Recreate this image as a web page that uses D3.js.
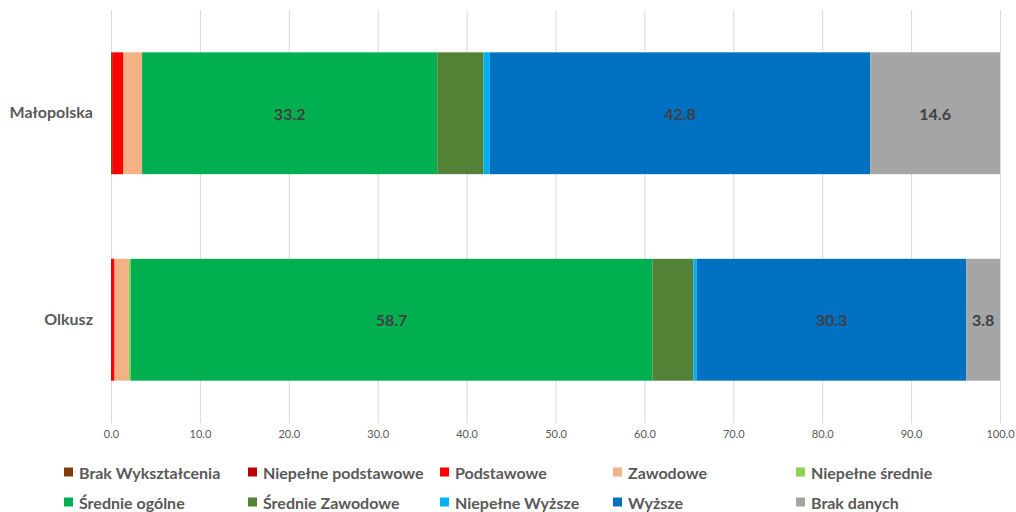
<!DOCTYPE html>
<html><head><meta charset="utf-8">
<script src="https://cdn.jsdelivr.net/npm/d3@7"></script>
<style>body{margin:0;background:#fff}svg{display:block}</style>
</head><body>
<svg id="c" width="1016" height="512"></svg>
<script>
const regions = ["Małopolska", "Olkusz"];
const seriesNames = ["Brak Wykształcenia","Niepełne podstawowe","Podstawowe","Zawodowe","Niepełne średnie","Średnie ogólne","Średnie Zawodowe","Niepełne Wyższe","Wyższe","Brak danych"];
const seriesColors = ["#843C0C","#C00000","#FF0000","#F4B183","#92D050","#00B050","#538135","#00B0F0","#0070C0","#A5A5A5"];
const malopolskaValues = [0.1, 0.1, 1.2, 2.1, 0.0, 33.2, 5.2, 0.7, 42.8, 14.6];
const olkuszValues     = [0.0, 0.0, 0.4, 1.6, 0.2, 58.7, 4.6, 0.4, 30.3, 3.8];
const labelledSeries = ["Średnie ogólne","Wyższe","Brak danych"];
const xTicks = [0,10,20,30,40,50,60,70,80,90,100];

const valuesByRegion = [malopolskaValues, olkuszValues];
const rows = regions.map((r,i)=>{const o={region:r}; seriesNames.forEach((s,j)=>o[s]=valuesByRegion[i][j]); return o;});
const stacked = d3.stack().keys(seriesNames)(rows);

const svg = d3.select("#c");
const x = d3.scaleLinear().domain([0,100]).range([111,1000]);
const y = d3.scaleBand().domain(regions).range([10,423]).paddingInner(0.41).paddingOuter(0.205);
const FONT = "Lato, 'Open Sans', sans-serif";

// gridlines
svg.append("g").selectAll("line").data(xTicks).join("line")
  .attr("x1",d=>x(d)+0.5).attr("x2",d=>x(d)+0.5).attr("y1",10).attr("y2",423)
  .attr("stroke","#d9d9d9").attr("stroke-width",1);

// bars
const g = svg.append("g");
stacked.forEach((layer,li)=>{
  g.append("g").attr("fill",seriesColors[li]).selectAll("rect").data(layer).join("rect")
    .attr("x",d=>x(d[0])).attr("width",d=>Math.max(0,x(d[1])-x(d[0])))
    .attr("y",d=>y(d.data.region)).attr("height",y.bandwidth());
});
// labels
stacked.forEach((layer)=>{
  if(!labelledSeries.includes(layer.key)) return;
  g.append("g").selectAll("text").data(layer).join("text")
    .attr("x",d=>(x(d[0])+x(d[1]))/2).attr("y",d=>y(d.data.region)+y.bandwidth()/2)
    .attr("text-anchor","middle").attr("dominant-baseline","central")
    .attr("font-family",FONT).attr("font-weight","bold").attr("font-size","16px")
    .attr("fill","#404040").text(d=>(d[1]-d[0]).toFixed(1));
});

// x axis
const xAxis = d3.axisBottom(x).tickValues(xTicks).tickFormat(d3.format(".1f")).tickSize(0).tickPadding(0);
const ax = svg.append("g").attr("transform","translate(0,424)").call(xAxis);
ax.select(".domain").remove();
ax.selectAll("text").attr("font-family",FONT).attr("font-size","11px").attr("fill","#595959").attr("dy","0.71em").attr("y",6);

// y axis labels
const yAxis = d3.axisLeft(y).tickSize(0).tickPadding(0);
const ay = svg.append("g").attr("transform","translate(93,0)").call(yAxis);
ay.select(".domain").remove();
ay.selectAll("text").attr("font-family",FONT).attr("font-weight","bold").attr("font-size","16px").attr("fill","#595959");

// legend
const legX = [64,248,440,613,796];
const legY = [472,502];
const leg = svg.append("g").selectAll("g").data(seriesNames).join("g")
  .attr("transform",(d,i)=>`translate(${legX[i%5]},${legY[Math.floor(i/5)]})`);
leg.append("rect").attr("x",0).attr("y",-4.5).attr("width",9).attr("height",9).attr("fill",(d,i)=>seriesColors[i]);
leg.append("text").attr("x",15).attr("y",0).attr("dominant-baseline","central")
  .attr("font-family",FONT).attr("font-weight","bold").attr("font-size","16px")
  .attr("fill","#595959").text(d=>d);
</script>
</body></html>
